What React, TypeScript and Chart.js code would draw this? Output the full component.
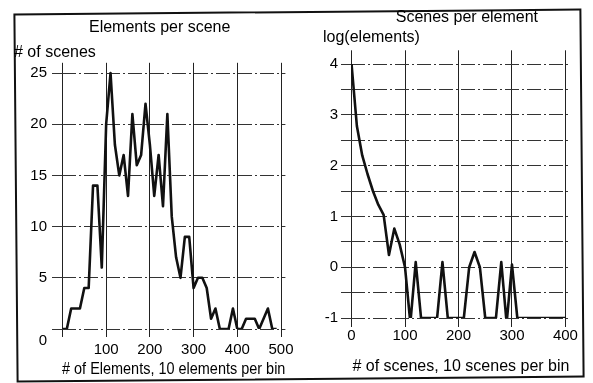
import React, { useEffect, useRef } from "react";
import { Chart, registerables } from "chart.js";

Chart.register(...registerables);

const FONT = "'Liberation Sans', Arial, Helvetica, sans-serif";
Chart.defaults.font.family = FONT;
Chart.defaults.color = "#000";

// Left panel: elements per scene (10 elements per bin)
const elementBins = [
  0, 10, 20, 30, 40, 50, 60, 70, 80, 90,
  100, 110, 120, 130, 140, 150, 160, 170, 180, 190,
  200, 210, 220, 230, 240, 250, 260, 270, 280, 290,
  300, 310, 320, 330, 340, 350, 360, 370, 380, 390,
  400, 410, 420, 430, 440, 450, 460, 470, 480, 490,
];
const scenesCount = [
  0, 0, 2, 2, 2, 4, 4, 14, 14, 6,
  20, 25, 18, 15, 17, 13, 21, 16, 17, 22,
  18, 13, 17, 12, 21, 11, 7, 5, 9, 9,
  4, 5, 5, 4, 1, 2, 0, 0, 0, 2,
  0, 0, 1, 1, 1, 0, 1, 2, 0, 0,
];
const leftXTicks = [0, 100, 200, 300, 400, 500];
const leftYTicks = [0, 5, 10, 15, 20, 25];

// Right panel: scenes per element (10 scenes per bin)
const sceneBins = [
  0, 10, 20, 30, 40, 50, 60, 70, 80, 90,
  100, 110, 120, 130, 140, 150, 160, 170, 180, 190,
  200, 210, 220, 230, 240, 250, 260, 270, 280, 290,
  300, 310, 320, 330, 340, 350, 360, 370, 380, 390, 400,
];
const logElements = [
  4.0, 2.78, 2.2, 1.83, 1.5, 1.23, 1.03, 0.24, 0.76, 0.45,
  0.0, -1.1, 0.1, -1, -1, -1, -1, 0.1, -1, -1,
  -1, -1, 0.0, 0.3, 0.0, -1, -1, -1, 0.1, -1.1,
  0.05, -1, -1, -1, -1, -1, -1, -1, -1, -1, -1,
];
const rightXTicks = [0, 100, 200, 300, 400];
const rightYTicks = [-1, -0.5, 0, 0.5, 1, 1.5, 2, 2.5, 3, 3.5, 4];

const GRID_DASH = [14, 3, 2, 3];

function shiftTitle(dx: number) {
  return {
    id: "shiftTitle",
    afterLayout(chart: any) {
      const tb = chart.titleBlock;
      if (tb) {
        tb.left += dx;
        tb.right += dx;
      }
    },
  };
}

function textFont(size: number, lineHeight = 1.2) {
  return { family: FONT, size, weight: "normal" as const, lineHeight };
}

function fixedTicks(values: number[]) {
  return (s: any) => {
    s.ticks = values.map((v) => ({ value: v }));
  };
}

function leftConfig(): any {
  return {
    type: "line",
    data: {
      datasets: [
        {
          data: elementBins.map((x, i) => ({ x, y: scenesCount[i] })),
          borderColor: "#111",
          borderWidth: 2.6,
          borderJoinStyle: "round",
          pointRadius: 0,
          tension: 0,
          fill: false,
        },
      ],
    },
    options: {
      animation: false,
      responsive: false,
      devicePixelRatio: 1,
      layout: { padding: { left: 14, right: 14.6, top: 0, bottom: 0 } },
      plugins: {
        legend: { display: false },
        tooltip: { enabled: false },
        title: {
          display: true,
          text: "Elements per scene",
          color: "#000",
          font: textFont(16),
          padding: { top: 18.4, bottom: 0 },
        },
        subtitle: {
          display: true,
          text: "# of scenes",
          align: "start",
          color: "#000",
          font: textFont(16),
          padding: { top: 5.8, bottom: 0.2 },
        },
      },
      scales: {
        x: {
          type: "linear",
          min: -1,
          max: 510,
          afterBuildTicks: fixedTicks(leftXTicks),
          ticks: {
            autoSkip: false,
            maxRotation: 0,
            padding: 4,
            color: "#000",
            font: textFont(15),
            callback: (v: number) => (v === 0 ? "" : String(v)),
          },
          grid: { color: "#222", lineWidth: 1, tickLength: 8, drawTicks: true },
          border: { display: false },
          title: {
            display: true,
            text: "# of Elements, 10 elements per bin",
            color: "#000",
            font: textFont(16),
            padding: { top: 0, bottom: 3.4 },
          },
          afterFit: (s: any) => {
            s.height = 54;
          },
        },
        y: {
          type: "linear",
          min: 0,
          max: 26,
          afterBuildTicks: fixedTicks(leftYTicks),
          ticks: {
            autoSkip: false,
            padding: 5,
            color: "#000",
            font: textFont(15, 1.6),
            callback: (v: number) => (v === 0 ? ["", "0"] : String(v)),
          },
          grid: {
            color: "#333",
            lineWidth: 1,
            tickLength: 10,
            tickBorderDash: GRID_DASH,
          },
          border: { display: false, dash: GRID_DASH },
          afterFit: (s: any) => {
            s.width = 48;
          },
        },
      },
    },
    plugins: [shiftTitle(10)],
  };
}

function rightConfig(): any {
  return {
    type: "line",
    data: {
      datasets: [
        {
          data: sceneBins.map((x, i) => ({ x, y: logElements[i] })),
          borderColor: "#111",
          borderWidth: 2.6,
          borderJoinStyle: "round",
          pointRadius: 0,
          tension: 0,
          fill: false,
        },
      ],
    },
    options: {
      animation: false,
      responsive: false,
      devicePixelRatio: 1,
      layout: { padding: { left: 30, right: 22.2, top: 0, bottom: 0 } },
      plugins: {
        legend: { display: false },
        tooltip: { enabled: false },
        title: {
          display: true,
          text: "Scenes per element",
          color: "#000",
          font: textFont(16),
          padding: { top: 8.4, bottom: 0 },
        },
        subtitle: {
          display: true,
          text: "log(elements)",
          align: "start",
          color: "#000",
          font: textFont(16),
          padding: { top: 0.8, bottom: 2.7 },
        },
      },
      scales: {
        x: {
          type: "linear",
          min: -1,
          max: 410,
          afterBuildTicks: fixedTicks(rightXTicks),
          ticks: {
            autoSkip: false,
            maxRotation: 0,
            padding: 0,
            color: "#000",
            font: textFont(15),
          },
          grid: { color: "#222", lineWidth: 1, tickLength: 9, drawTicks: true },
          border: { display: false },
          title: {
            display: true,
            text: "# of scenes, 10 scenes per bin",
            color: "#000",
            font: textFont(16),
            padding: { top: 0, bottom: 6.4 },
          },
          afterFit: (s: any) => {
            s.height = 65;
          },
        },
        y: {
          type: "linear",
          min: -1,
          max: 4.27,
          afterBuildTicks: fixedTicks(rightYTicks),
          ticks: {
            autoSkip: false,
            padding: 3,
            color: "#000",
            font: textFont(15),
            callback: (v: number) =>
              Math.abs(v - Math.round(v)) < 1e-6 ? String(Math.round(v)) : "",
          },
          grid: {
            color: "#333",
            lineWidth: 1,
            tickLength: 10,
            tickBorderDash: GRID_DASH,
          },
          border: { display: false, dash: GRID_DASH },
          afterFit: (s: any) => {
            s.width = 28;
          },
        },
      },
    },
    plugins: [shiftTitle(20)],
  };
}

export default function App() {
  const leftRef = useRef<HTMLCanvasElement>(null);
  const rightRef = useRef<HTMLCanvasElement>(null);

  useEffect(() => {
    const c1 = new Chart(leftRef.current as HTMLCanvasElement, leftConfig());
    const c2 = new Chart(rightRef.current as HTMLCanvasElement, rightConfig());
    return () => {
      c1.destroy();
      c2.destroy();
    };
  }, []);

  return (
    <div
      style={{
        position: "absolute",
        left: 0,
        top: 0,
        width: 593,
        height: 383,
        background: "#fff",
        overflow: "hidden",
      }}
    >
      <div
        style={{
          position: "absolute",
          left: 15,
          top: 11,
          width: 568,
          height: 369,
          border: "2px solid #111",
          boxSizing: "border-box",
          transform: "rotate(-0.5deg)",
        }}
      />
      <canvas
        ref={leftRef}
        width={300}
        height={383}
        style={{ position: "absolute", left: 0, top: 0, width: 300, height: 383 }}
      />
      <canvas
        ref={rightRef}
        width={300}
        height={383}
        style={{ position: "absolute", left: 293, top: 0, width: 300, height: 383 }}
      />
    </div>
  );
}
